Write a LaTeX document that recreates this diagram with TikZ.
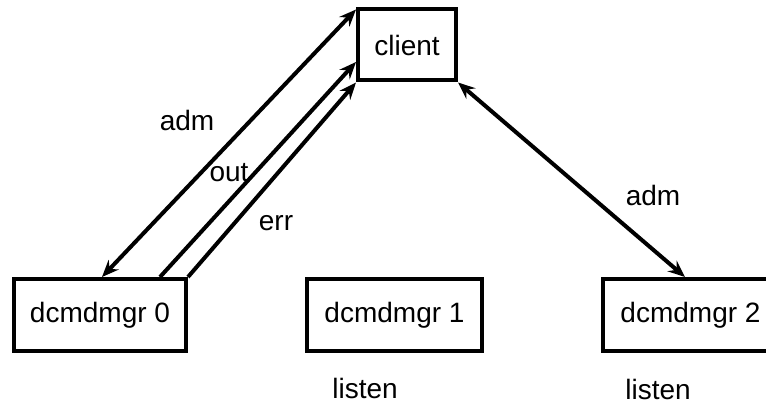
\documentclass[tikz,border=0pt]{standalone}
\usepackage{fontspec}
\setmainfont{Liberation Sans}
\usetikzlibrary{arrows.meta}
\begin{document}
\begin{tikzpicture}[x=1pt,y=-1pt,
  box/.style={draw,line width=4pt,inner sep=0pt,minimum width=#1,minimum height=72pt,font=\fontsize{28}{32}\selectfont},
  lbl/.style={inner sep=0pt,anchor=base,font=\fontsize{28}{32}\selectfont},
  tip/.style={Stealth[length=17pt,width=14pt,inset=6pt]},
  conn/.style={line width=4pt,arrows={-Stealth[length=17pt,width=14pt,inset=6pt]}},
  dconn/.style={line width=4pt,arrows={Stealth[length=17pt,width=14pt,inset=6pt]-Stealth[length=17pt,width=14pt,inset=6pt]}},
  ]
\useasboundingbox (0,0) rectangle (766,409);
\node[box=98pt,minimum height=71pt] (client) at (407,45) {client};
\node[box=172pt] (b0) at (100,315) {dcmdmgr 0};
\node[box=175pt] (b1) at (394.5,315) {dcmdmgr 1};
\node[box=175pt] (b2) at (690.5,315) {dcmdmgr 2};
\node[lbl] (l1) at (365,398) {listen};
\node[lbl] (l2) at (658,399) {listen};
\draw[dconn] ([xshift=2pt]b0.north) -- ([yshift=-2pt]client.north west);
\draw[conn] ([xshift=60pt]b0.north) -- ([yshift=-17pt]client.west);
\draw[conn] (b0.north east) -- (client.south west);
\draw[dconn] (client.south east) -- ([xshift=-5.5pt]b2.north);
\node[lbl] (ladm) at (187,131) {adm};
\node[lbl] (lout) at (229,182) {out};
\node[lbl] (lerr) at (276,230) {err};
\node[lbl] (radm) at (653,205) {adm};
\end{tikzpicture}
\end{document}
